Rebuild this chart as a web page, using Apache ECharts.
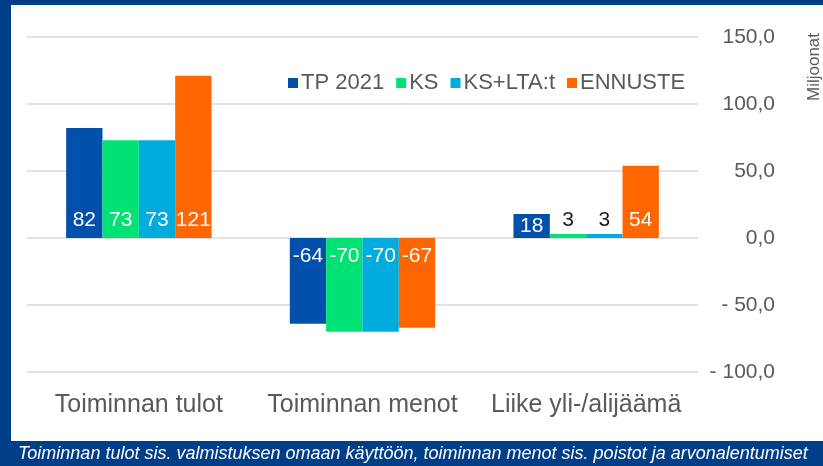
<!DOCTYPE html>
<html><head><meta charset="utf-8">
<script src="https://cdn.jsdelivr.net/npm/echarts@6/dist/echarts.min.js"></script>
<style>html,body{margin:0;padding:0;background:#003E87;}#c{width:823px;height:466px;}</style>
</head><body><div id="c"></div>
<script>
const categories = ['Toiminnan tulot', 'Toiminnan menot', 'Liike yli-/alijäämä'];
const seriesNames = ['TP 2021', 'KS', 'KS+LTA:t', 'ENNUSTE'];
const tp2021 = [82, -64, 18];
const ks = [73, -70, 3];
const ksLta = [73, -70, 3];
const ennuste = [121, -67, 54];
const yTicks = [-100, -50, 0, 50, 100, 150];
const footnote = 'Toiminnan tulot sis. valmistuksen omaan käyttöön, toiminnan menot sis. poistot ja arvonalentumiset';
const unitName = 'Miljoonat';

const colors = ['#0050AC', '#00E374', '#00ACDE', '#FF6600'];
const FONT = '"Liberation Sans Narrow", "Liberation Sans", sans-serif';
const allData = [tp2021, ks, ksLta, ennuste];

function labelFor(v) {
  const a = Math.abs(v);
  if (a < 10) return { position: 'top', color: '#1a1a1a', distance: 3 };
  if (v < 0) return { position: 'insideTop', color: '#ffffff', distance: 8 };
  return { position: 'insideBottom', color: '#ffffff', distance: a < 30 ? 1 : 7 };
}

const chart = echarts.init(document.getElementById('c'), null, { renderer: 'canvas' });
chart.setOption({
  backgroundColor: '#003E87',
  animation: false,
  textStyle: { fontFamily: FONT },
  graphic: [
    { type: 'rect', z: -10, shape: { x: 11, y: 5, width: 812, height: 436 }, style: { fill: '#ffffff' } },
    { type: 'text', left: 18, top: 445, style: { text: footnote, fill: '#ffffff', font: 'italic 18px ' + FONT } },
    { type: 'text', x: 806, y: 101, rotation: Math.PI / 2, style: { text: unitName, fill: '#595959', font: '17px "Liberation Sans", sans-serif' } }
  ],
  legend: {
    data: seriesNames,
    left: 283, top: 67,
    itemWidth: 10, itemHeight: 10, itemGap: 12,
    icon: 'rect',
    textStyle: { fontSize: 22, color: '#595959', fontFamily: FONT, padding: [0, 0, 0, -2] }
  },
  grid: { left: 27, right: 125, top: 37, bottom: 94, containLabel: false },
  xAxis: {
    type: 'category', data: categories,
    axisLine: { show: false }, axisTick: { show: false },
    axisLabel: { fontSize: 25, color: '#595959', margin: 21, interval: 0, fontFamily: FONT }
  },
  yAxis: {
    type: 'value', position: 'right', min: -100, max: 150, interval: 50,
    axisLine: { show: false }, axisTick: { show: false },
    splitLine: { lineStyle: { color: '#D9D9D9', width: 1.5 } },
    axisLabel: {
      fontSize: 21, color: '#595959', align: 'right', margin: 77, fontFamily: FONT,
      formatter: v => (v < 0 ? '- ' + Math.abs(v).toFixed(1) : v.toFixed(1)).replace('.', ',')
    }
  },
  series: seriesNames.map((name, i) => ({
    name, type: 'bar',
    barCategoryGap: '35%', barGap: '0%',
    itemStyle: { color: colors[i] },
    label: { show: true, fontSize: 21, fontFamily: FONT },
    data: allData[i].map(v => ({ value: v, label: labelFor(v) }))
  }))
});
</script></body></html>
